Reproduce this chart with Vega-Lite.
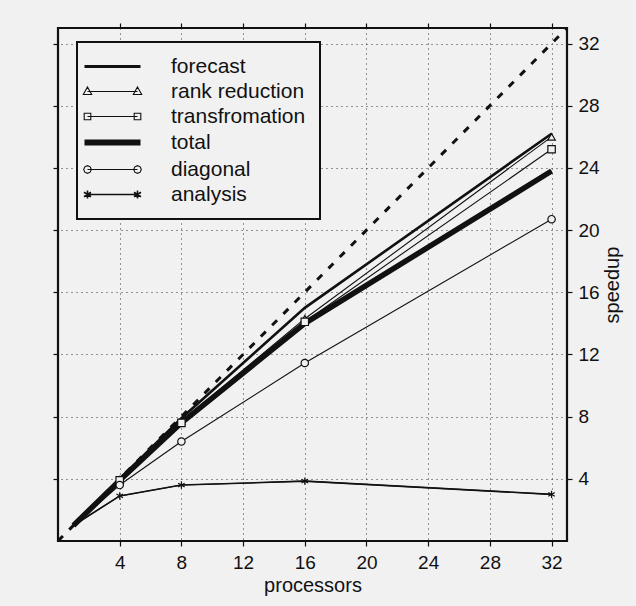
{
  "$schema": "https://vega.github.io/schema/vega-lite/v6.json",
  "autosize": {"type": "none"},
  "padding": {"left": 58, "top": 28, "right": 69, "bottom": 65},
  "width": 509,
  "height": 513,
  "background": "#f1f1f1",
  "config": {
    "view": {"stroke": "#111", "strokeWidth": 2.2},
    "font": "Liberation Sans",
    "axis": {
      "labelFont": "Liberation Sans", "titleFont": "Liberation Sans",
      "labelColor": "#111", "titleColor": "#111", "tickColor": "#111",
      "domain": false, "gridColor": "#333", "gridDash": [1, 4], "gridWidth": 1,
      "labelFontSize": 19, "titleFontSize": 20, "titleFontWeight": "normal",
      "tickSize": 5, "tickWidth": 1.2
    }
  },
  "datasets": {
    "ideal": [{"p": 0, "s": 0}, {"p": 33, "s": 33}],
    "runs": [
      {"series": "forecast", "p": 1, "s": 1},
      {"series": "forecast", "p": 4, "s": 4.0},
      {"series": "forecast", "p": 8, "s": 7.9},
      {"series": "forecast", "p": 16, "s": 15.0},
      {"series": "forecast", "p": 32, "s": 26.2},
      {"series": "rank reduction", "p": 1, "s": 1},
      {"series": "rank reduction", "p": 4, "s": 3.95},
      {"series": "rank reduction", "p": 8, "s": 7.7},
      {"series": "rank reduction", "p": 16, "s": 14.3},
      {"series": "rank reduction", "p": 32, "s": 26.0},
      {"series": "transfromation", "p": 1, "s": 1},
      {"series": "transfromation", "p": 4, "s": 3.9},
      {"series": "transfromation", "p": 8, "s": 7.6},
      {"series": "transfromation", "p": 16, "s": 14.1},
      {"series": "transfromation", "p": 32, "s": 25.2},
      {"series": "total", "p": 1, "s": 1},
      {"series": "total", "p": 4, "s": 3.9},
      {"series": "total", "p": 8, "s": 7.6},
      {"series": "total", "p": 16, "s": 14.0},
      {"series": "total", "p": 32, "s": 23.8},
      {"series": "diagonal", "p": 1, "s": 1},
      {"series": "diagonal", "p": 4, "s": 3.6},
      {"series": "diagonal", "p": 8, "s": 6.4},
      {"series": "diagonal", "p": 16, "s": 11.45},
      {"series": "diagonal", "p": 32, "s": 20.7},
      {"series": "analysis", "p": 1, "s": 1},
      {"series": "analysis", "p": 4, "s": 2.9},
      {"series": "analysis", "p": 8, "s": 3.6},
      {"series": "analysis", "p": 16, "s": 3.85},
      {"series": "analysis", "p": 32, "s": 3.0}
    ]
  },
  "resolve": {"axis": {"x": "independent", "y": "independent"}},
  "layer": [
    {
      "data": {"name": "ideal"},
      "mark": {"type": "line", "strokeDash": [7, 9], "strokeWidth": 3, "color": "#111", "clip": true},
      "encoding": {
        "x": {"field": "p", "type": "quantitative",
          "scale": {"domain": [0, 33], "nice": false, "zero": false},
          "axis": {"orient": "bottom", "values": [4, 8, 12, 16, 20, 24, 28, 32], "title": "processors", "grid": true, "labelPadding": 7, "titlePadding": 3}},
        "y": {"field": "s", "type": "quantitative",
          "scale": {"domain": [0, 33], "nice": false, "zero": false},
          "axis": {"orient": "right", "values": [4, 8, 12, 16, 20, 24, 28, 32], "title": "speedup", "grid": true, "labelPadding": 6, "titlePadding": 3, "titleAngle": 270, "titleBaseline": "top"}}
      }
    },
    {
      "data": {"name": "runs"},
      "mark": {"type": "line", "clip": true, "strokeWidth": 1.1},
      "encoding": {
        "x": {"field": "p", "type": "quantitative",
          "axis": {"orient": "top", "values": [4, 8, 12, 16, 20, 24, 28, 32], "labels": false, "title": null, "grid": false}},
        "y": {"field": "s", "type": "quantitative",
          "axis": {"orient": "left", "values": [4, 8, 12, 16, 20, 24, 28, 32], "labels": false, "title": null, "grid": false}},
        "color": {"field": "series", "type": "nominal",
          "scale": {"domain": ["forecast", "rank reduction", "transfromation", "total", "diagonal", "analysis"],
            "range": ["#111", "#111", "#111", "#111", "#111", "#111"]},
          "legend": {
            "title": null, "orient": "none", "legendX": 19, "legendY": 14,
            "strokeColor": "#111", "fillColor": "#f1f1f1", "padding": 14,
            "labelFont": "Liberation Sans", "labelFontSize": 21, "labelColor": "#111",
            "labelOffset": 59, "rowPadding": 3, "symbolSize": 400,
            "encode": {
              "legend": {"update": {"strokeWidth": {"value": 2}}},
              "symbols": {"update": {
              "size": {"value": 400},
              "stroke": {"value": "#111"},
              "fill": {"value": "#f1f1f1"},
              "opacity": {"value": 1},
              "shape": {"signal": "datum.value === 'forecast' ? 'M-1.7,0L3.9,0' : datum.value === 'rank reduction' ? 'M-1.4,0L3.6,0M-1.4,-0.45L-0.98,0.3L-1.82,0.3ZM3.6,-0.45L4.02,0.3L3.18,0.3Z' : datum.value === 'transfromation' ? 'M-1.4,0L3.6,0M-1.73,-0.33L-1.07,-0.33L-1.07,0.33L-1.73,0.33ZM3.27,-0.33L3.93,-0.33L3.93,0.33L3.27,0.33Z' : datum.value === 'total' ? 'M-1.7,0L3.9,0' : datum.value === 'diagonal' ? 'M-1.4,0L3.6,0M-1.02,0L-1.13,-0.27L-1.4,-0.38L-1.67,-0.27L-1.78,0L-1.67,0.27L-1.4,0.38L-1.13,0.27ZM3.98,0L3.87,-0.27L3.6,-0.38L3.33,-0.27L3.22,0L3.33,0.27L3.6,0.38L3.87,0.27Z' : 'M-1.4,0L3.6,0M-1.4,-0.4L-1.4,0.4M-1.75,-0.22L-1.05,0.22M-1.75,0.22L-1.05,-0.22M3.6,-0.4L3.6,0.4M3.25,-0.22L3.95,0.22M3.25,0.22L3.95,-0.22'"},
              "strokeWidth": {"signal": "datum.value === 'forecast' ? 3 : datum.value === 'total' ? 6 : datum.value === 'analysis' ? 1.6 : 1.1"}
            }}}
          }}
      }
    },
    {
      "data": {"name": "runs"},
      "transform": [{"filter": "datum.series === 'analysis'"}],
      "mark": {"type": "line", "clip": true, "strokeWidth": 1.6, "color": "#111"},
      "encoding": {
        "x": {"field": "p", "type": "quantitative", "axis": null},
        "y": {"field": "s", "type": "quantitative", "axis": null}
      }
    },
    {
      "data": {"name": "runs"},
      "transform": [{"filter": "datum.series === 'forecast'"}],
      "mark": {"type": "line", "clip": true, "strokeWidth": 2.6, "color": "#111"},
      "encoding": {
        "x": {"field": "p", "type": "quantitative", "axis": null},
        "y": {"field": "s", "type": "quantitative", "axis": null}
      }
    },
    {
      "data": {"name": "runs"},
      "transform": [{"filter": "datum.series === 'total'"}],
      "mark": {"type": "line", "clip": true, "strokeWidth": 5.5, "color": "#111"},
      "encoding": {
        "x": {"field": "p", "type": "quantitative", "axis": null},
        "y": {"field": "s", "type": "quantitative", "axis": null}
      }
    },
    {
      "data": {"name": "runs"},
      "transform": [{"filter": "datum.series !== 'forecast' && datum.series !== 'total' && datum.p > 1"}],
      "mark": {"type": "point", "filled": true, "fill": "#f1f1f1", "stroke": "#111", "strokeWidth": 1.2, "size": 55, "opacity": 1, "clip": true},
      "encoding": {
        "x": {"field": "p", "type": "quantitative", "axis": null},
        "y": {"field": "s", "type": "quantitative", "axis": null},
        "shape": {"field": "series", "type": "nominal",
          "scale": {"domain": ["rank reduction", "transfromation", "diagonal", "analysis"],
            "range": ["triangle-up", "square", "circle", "M0,-1L0,1M-0.87,-0.5L0.87,0.5M-0.87,0.5L0.87,-0.5"]},
          "legend": null}
      }
    }
  ]
}
